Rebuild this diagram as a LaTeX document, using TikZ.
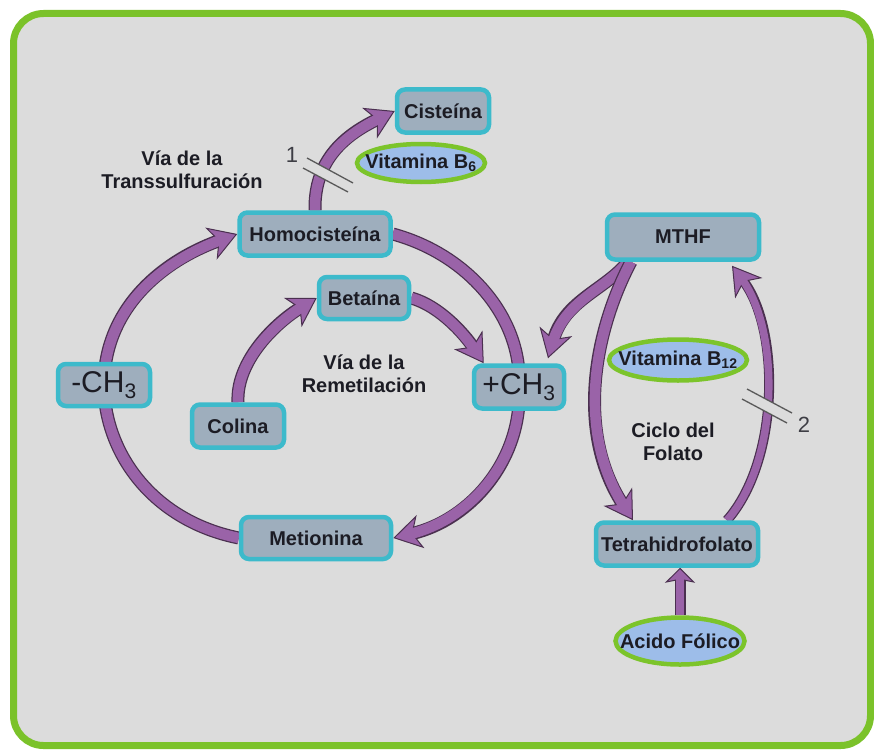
\documentclass[tikz,border=0pt]{standalone}
\usepackage{fontspec}
\setmainfont{Liberation Sans}
\usetikzlibrary{arrows.meta,shapes.geometric}
\definecolor{fondo}{HTML}{DCDCDC}
\definecolor{marco}{HTML}{7BC22A}
\definecolor{bordecaja}{HTML}{3DBACB}
\definecolor{rellenocaja}{HTML}{9EAEBD}
\definecolor{rellenovit}{HTML}{9DBDE9}
\definecolor{bordevit}{HTML}{7CC42B}
\definecolor{morado}{HTML}{9A63A8}
\definecolor{bordemorado}{HTML}{4B3050}
\definecolor{tinta}{HTML}{1C1C24}
\pgfdeclarelayer{marcofondo}
\pgfdeclarelayer{flechas}
\pgfsetlayers{marcofondo,flechas,main}
\tikzset{
  caja/.style = {draw=bordecaja, fill=rellenocaja, line width=4.5pt,
    rounded corners=8pt, inner sep=0pt, text=tinta,
    font=\fontsize{20}{24}\selectfont\bfseries},
  metil/.style = {caja, font=\fontsize{30}{34}\selectfont},
  vit/.style = {ellipse, draw=bordevit, fill=rellenovit, line width=4.5pt,
    inner sep=0pt, text=tinta, font=\fontsize{20}{24}\selectfont\bfseries},
  via/.style = {align=center, inner sep=0pt, text=tinta,
    font=\fontsize{20}{23}\selectfont\bfseries},
  numero/.style = {inner sep=0pt, text=tinta!85, font=\fontsize{22}{24}\selectfont},
  corte/.style = {draw=black!65, line width=1.3pt},
  flecha/.style = {line width=13pt, draw=bordemorado,
    -{Stealth[length=28pt, width=34pt, inset=8pt, line width=1pt, fill=morado]},
    postaction={draw=morado, line width=10.5pt, arrows=-, shorten >=16pt}},
  flechafina/.style = {line width=10pt, draw=bordemorado,
    -{Stealth[length=28pt, width=34pt, inset=8pt, line width=1pt, fill=morado]},
    postaction={draw=morado, line width=7.5pt, arrows=-, shorten >=16pt}},
  flechacorta/.style = {line width=11pt, draw=bordemorado,
    -{Stealth[length=15pt, width=30pt, inset=3pt, line width=1pt, fill=morado]},
    postaction={draw=morado, line width=8.5pt, arrows=-, shorten >=9pt}}
}

\begin{document}
\begin{tikzpicture}[x=1pt, y=-1pt]
  \useasboundingbox (0,0) rectangle (874,749);
  \begin{pgfonlayer}{marcofondo}
    \draw[line width=7pt, draw=marco, fill=fondo, rounded corners=30pt]
      (13.5,13.5) rectangle (870.5,745.5);
  \end{pgfonlayer}

  % ciclo de la metionina
  \node[caja, minimum width=92pt, minimum height=43pt] (cis) at (443,111) {Cisteína};
  \node[vit, minimum width=128pt, minimum height=38pt] (b6) at (421,163)
    {\makebox[0pt]{Vitamina B\textsubscript{6}}};
  \node[caja, minimum width=151pt, minimum height=43pt] (homo) at (315,234) {Homocisteína};
  \node[caja, minimum width=90pt, minimum height=42pt] (bet) at (364,298) {Betaína};
  \node[metil, minimum width=92pt, minimum height=42pt] (mch3) at (104,385) {-CH\textsubscript{3}};
  \node[metil, minimum width=90pt, minimum height=43pt] (pch3) at (519,387) {+CH\textsubscript{3}};
  \node[caja, minimum width=92pt, minimum height=43pt] (col) at (238,426) {Colina};
  \node[caja, minimum width=150pt, minimum height=42pt] (met) at (316,538) {Metionina};
  \node[via] (trans) at (182,170) {Vía de la\\Transsulfuración};
  \node[via] (remet) at (364,374) {Vía de la\\Remetilación};

  % ciclo del folato
  \node[caja, minimum width=152pt, minimum height=45pt] (mthf) at (683,237) {MTHF};
  \node[vit, minimum width=138pt, minimum height=41pt] (b12) at (678,360)
    {\makebox[0pt]{Vitamina B\textsubscript{12}}};
  \node[via] (folato) at (673,442) {Ciclo del\\Folato};
  \node[caja, minimum width=162pt, minimum height=43pt] (thf) at (677,544) {Tetrahidrofolato};
  \node[vit, minimum width=129pt, minimum height=47pt] (acido) at (680,641)
    {\makebox[0pt]{Acido Fólico}};

  \begin{pgfonlayer}{flechas}
    \draw[flecha] (homo.north) .. controls (314,160) and (345,135) .. (cis.west);
    \draw[flecha] (met.west) .. controls (150,520) and (104,450) .. (mch3.center)
      .. controls (104,310) and (160,262) .. (homo.west);
    \draw[flecha] (homo.east) .. controls (470,255) and (523,320) .. (pch3.center)
      .. controls (523,460) and (470,520) .. (met.east);
    \draw[flecha] (col.north) .. controls (236,360) and (277,322) .. (bet.west);
    \draw[flecha] (bet.east) .. controls (440,306) and (465,335) .. ([xshift=12pt]pch3.north west);
    \draw[flecha] ([xshift=-55pt]mthf.south) .. controls (605,290) and (565,300)
      .. ([xshift=29pt,yshift=5pt]pch3.north);
    \draw[flecha] ([xshift=-52pt]mthf.south) .. controls (595,330) and (575,430)
      .. ([xshift=-44pt]thf.north);
    \draw[flechafina] ([xshift=50pt]thf.north) .. controls (780,460) and (780,330)
      .. ([xshift=49pt,yshift=-4pt]mthf.south);
    \draw[flechacorta] (acido.north) -- (acido.north |- thf.south);
  \end{pgfonlayer}

  % inhibiciones
  \fill[fondo] (307,158) -- (353,183) -- (348,192) -- (303,168) -- cycle;
  \draw[corte] (307,158) -- (353,183) (303,168) -- (348,192);
  \node[numero] (uno) at (292,155) {1};
  \fill[fondo] (747,389) -- (792,413) -- (787,423) -- (742,399) -- cycle;
  \draw[corte] (747,389) -- (792,413) (742,399) -- (787,423);
  \node[numero] (dos) at (804,425) {2};
\end{tikzpicture}
\end{document}
